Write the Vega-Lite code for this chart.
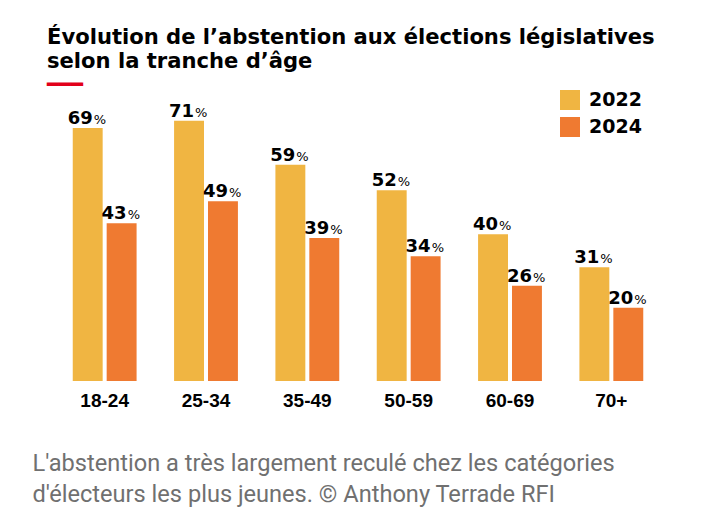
{
  "$schema": "https://vega.github.io/schema/vega-lite/v6.json",
  "autosize": {"type": "none"},
  "width": 608,
  "height": 275,
  "padding": {"left": 54, "top": 106, "right": 46, "bottom": 148},
  "background": "#ffffff",
  "config": {"view": {"stroke": null}},
  "title": {
    "text": ["Évolution de l’abstention aux élections législatives", "selon la tranche d’âge"],
    "subtitle": "━━━",
    "anchor": "start",
    "frame": "group",
    "dx": -7,
    "offset": -5,
    "font": "DejaVu Sans",
    "fontSize": 21.1,
    "fontWeight": "bold",
    "lineHeight": 24,
    "color": "#000000",
    "subtitleFont": "DejaVu Sans",
    "subtitleFontSize": 20,
    "subtitleColor": "#E2001A",
    "subtitlePadding": 3
  },
  "data": {
    "values": [
      {"age": "18-24", "year": "2022", "value": 69},
      {"age": "18-24", "year": "2024", "value": 43},
      {"age": "25-34", "year": "2022", "value": 71},
      {"age": "25-34", "year": "2024", "value": 49},
      {"age": "35-49", "year": "2022", "value": 59},
      {"age": "35-49", "year": "2024", "value": 39},
      {"age": "50-59", "year": "2022", "value": 52},
      {"age": "50-59", "year": "2024", "value": 34},
      {"age": "60-69", "year": "2022", "value": 40},
      {"age": "60-69", "year": "2024", "value": 26},
      {"age": "70+", "year": "2022", "value": 31},
      {"age": "70+", "year": "2024", "value": 20}
    ]
  },
  "encoding": {
    "x": {
      "field": "age",
      "type": "nominal",
      "sort": null,
      "scale": {"paddingInner": 0.37, "paddingOuter": 0.185},
      "axis": {
        "labelAngle": 0,
        "domain": false,
        "ticks": false,
        "labelPadding": 10,
        "labelFont": "Liberation Sans",
        "labelFontSize": 19,
        "labelFontWeight": "bold",
        "labelColor": "#000000",
        "title": ["L'abstention a très largement reculé chez les catégories", "d'électeurs les plus jeunes. © Anthony Terrade RFI"],
        "titleFont": "Roboto",
        "titleFontSize": 23.6,
        "titleFontWeight": "normal",
        "titleColor": "#707070",
        "titleAnchor": "start",
        "titleAlign": "left",
        "titleBaseline": "alphabetic",
        "titleX": -22,
        "titleY": 89,
        "titleLineHeight": 31
      }
    },
    "xOffset": {
      "field": "year",
      "type": "nominal",
      "scale": {"paddingInner": 0.118, "paddingOuter": 0}
    },
    "y": {
      "field": "value",
      "type": "quantitative",
      "scale": {"domain": [0, 75]},
      "axis": null
    }
  },
  "layer": [
    {
      "mark": {"type": "bar"},
      "encoding": {
        "color": {
          "field": "year",
          "type": "nominal",
          "scale": {"domain": ["2022", "2024"], "range": ["#F0B542", "#EF7A31"]},
          "legend": {
            "orient": "none",
            "legendX": 506,
            "legendY": -16,
            "title": null,
            "symbolType": "square",
            "symbolSize": 400,
            "symbolStrokeWidth": 0,
            "symbolOpacity": 1,
            "labelFont": "DejaVu Sans",
            "labelFontWeight": "bold",
            "labelFontSize": 19,
            "labelColor": "#000000",
            "labelOffset": 9,
            "rowPadding": 7
          }
        }
      }
    },
    {
      "mark": {"type": "text", "align": "right", "baseline": "alphabetic", "dx": 5, "dy": -4, "font": "DejaVu Sans", "fontWeight": "bold", "fontSize": 18, "color": "#000000"},
      "encoding": {"text": {"field": "value", "type": "quantitative"}}
    },
    {
      "mark": {"type": "text", "align": "left", "baseline": "alphabetic", "dx": 6, "dy": -4, "font": "DejaVu Sans", "fontWeight": "normal", "fontSize": 13, "color": "#000000"},
      "encoding": {"text": {"value": "%"}}
    }
  ]
}
